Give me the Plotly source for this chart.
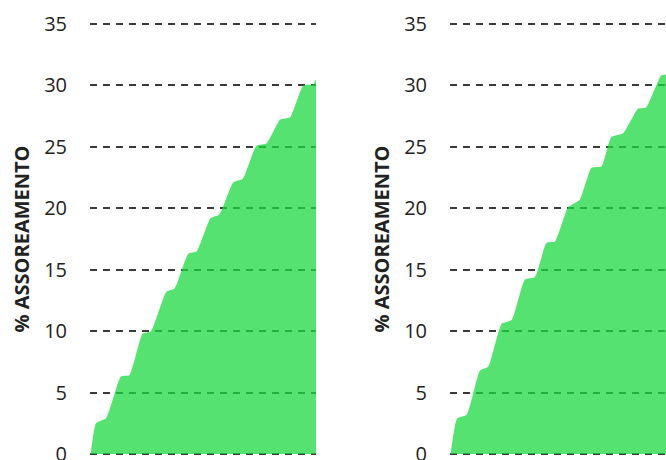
import plotly.graph_objects as go

# Cumulative siltation (%) over time for two scenarios
t_left = [0.3, 2.7, 7.1, 13.7, 17.4, 23.3, 27.0, 33.8, 37.5, 43.5, 47.2,
          53.4, 57.2, 63.4, 67.6, 73.7, 78.2, 84.1, 88.5, 94.4, 98.8, 102.0]
v_left = [0.0, 2.5, 2.9, 6.3, 6.4, 9.8, 10.0, 13.2, 13.5, 16.3, 16.5,
          19.2, 19.5, 22.1, 22.4, 25.1, 25.3, 27.2, 27.4, 30.0, 30.1, 31.5]

t_right = [0.3, 3.2, 7.4, 13.3, 16.9, 22.9, 27.3, 33.2, 37.6, 42.8, 46.5,
           52.4, 57.5, 62.7, 67.1, 71.5, 76.7, 83.3, 86.9, 93.6, 97.0]
v_right = [0.0, 2.9, 3.2, 6.8, 7.1, 10.6, 10.9, 14.2, 14.4, 17.2, 17.3,
           20.1, 20.7, 23.3, 23.4, 25.8, 26.1, 28.1, 28.2, 30.8, 30.9]

y_ticks = [0, 5, 10, 15, 20, 25, 30, 35]
y_title = "% ASSOREAMENTO"

FILL = "rgba(28,216,64,0.75)"
GRID = "#3a3a3a"

# small padding so the 0 and 35 grid lines are not dropped at the plot edges
PAD = 0.15
px_per_unit = 430 / 35
top_px = 24 - PAD * px_per_unit
bot_px = 454 + PAD * px_per_unit

fig = go.Figure()
fig.add_trace(go.Scatter(x=t_left, y=v_left, mode="lines", fill="tozeroy",
                         fillcolor=FILL, line=dict(width=0, shape="spline", smoothing=0.5),
                         xaxis="x", yaxis="y", showlegend=False, hoverinfo="skip"))
fig.add_trace(go.Scatter(x=t_right, y=v_right, mode="lines", fill="tozeroy",
                         fillcolor=FILL, line=dict(width=0, shape="spline", smoothing=0.5),
                         xaxis="x2", yaxis="y2", showlegend=False, hoverinfo="skip"))

yax = dict(range=[-PAD, 35 + PAD], tickvals=y_ticks, showgrid=True, gridcolor=GRID,
           gridwidth=1.5, griddash="7px,6px", zeroline=False, showline=False,
           ticks="", ticklabelstandoff=22, automargin=False, ticklabeloverflow="allow",
           tickfont=dict(family="Open Sans", size=20, color="#222222"),
           title=dict(text=y_title, standoff=9,
                      font=dict(family="Open Sans", size=20, color="#222222", weight="bold")),
           domain=[(460 - bot_px) / 460, (460 - top_px) / 460])
xax = dict(showgrid=False, zeroline=False, showline=False, showticklabels=False,
           ticks="", automargin=False)

fig.update_layout(
    width=666, height=460,
    margin=dict(l=0, r=0, t=0, b=0, autoexpand=False),
    paper_bgcolor="white", plot_bgcolor="white",
    xaxis=dict(xax, domain=[90 / 666, 316 / 666], range=[0, 100]),
    xaxis2=dict(xax, domain=[450 / 666, 1.0], range=[0, 95.7]),
    yaxis=dict(yax, anchor="x"),
    yaxis2=dict(yax, anchor="x2"),
)

fig.write_html("out.html")
